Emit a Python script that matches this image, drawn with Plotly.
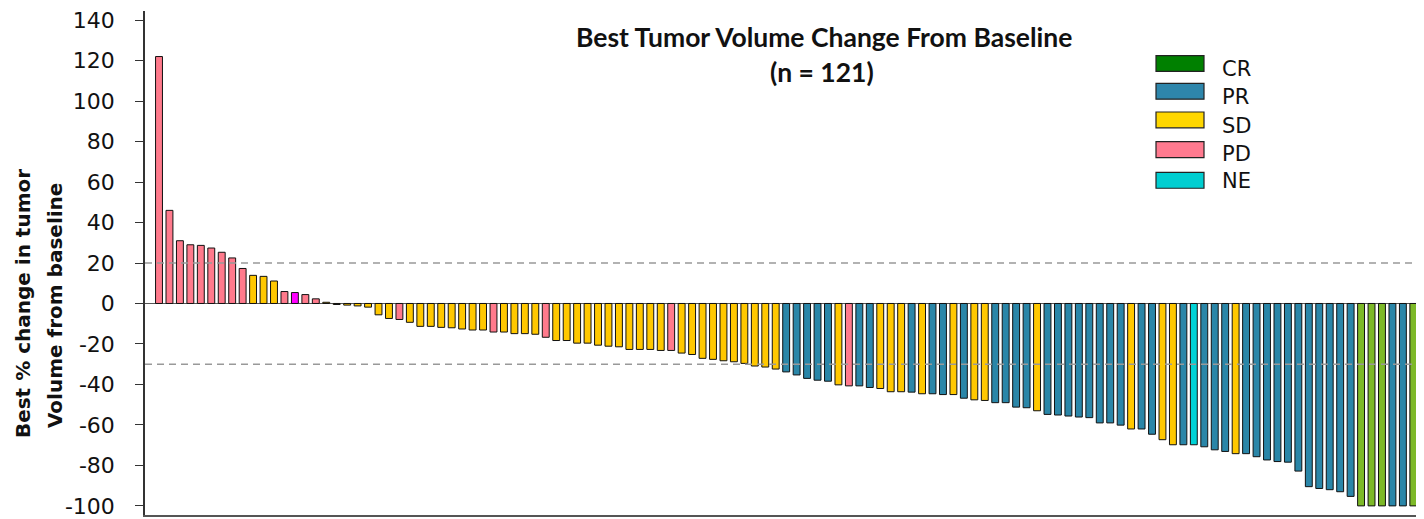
import plotly.graph_objects as go

# ---------------- data ----------------
patients = list(range(1, 122))
best_change = [
    122, 46, 31, 29, 28.7, 27.4, 25.3, 22.5, 17.3, 13.9,
    13.4, 11.1, 5.9, 5.4, 4.4, 2.3, 0.6, -0.5, -0.8, -1.2,
    -1.8, -5.6, -7.4, -7.9, -9.3, -11.3, -11.3, -11.8, -12.0, -12.6,
    -13.1, -13.1, -14.1, -14.1, -14.9, -14.9, -15.2, -16.7, -18.3, -18.3,
    -19.6, -19.6, -20.6, -21.1, -21.4, -22.7, -22.7, -22.7, -23.2, -23.2,
    -24.5, -25.2, -27.1, -27.6, -28.3, -28.8, -29.6, -30.9, -31.4, -32.4,
    -33.8, -35.3, -37.0, -37.9, -38.4, -40.2, -40.7, -40.7, -41.5, -42.0,
    -43.6, -43.6, -43.8, -44.6, -44.6, -45.0, -45.0, -46.8, -47.6, -47.9,
    -49.0, -49.0, -51.2, -51.5, -53.0, -54.8, -55.1, -55.6, -56.1, -56.4,
    -59.0, -59.0, -60.1, -62.0, -62.0, -64.6, -67.3, -69.8, -69.8, -69.8,
    -70.8, -72.3, -73.1, -74.2, -74.2, -75.7, -77.3, -78.1, -78.4, -82.8,
    -90.5, -91.4, -92.0, -93.0, -95.3, -100, -100, -100, -100, -100,
    -100,
]
response = (
    ["PD"] * 9 + ["SD"] * 3 + ["PD", "PD*", "PD", "PD"] + ["SD"] * 7 + ["PD"]
    + ["SD"] * 8 + ["PD"] + ["SD"] * 4 + ["PD"] + ["SD"] * 11 + ["PD"]
    + ["SD"] * 10 + ["PR"] * 5 + ["SD", "PD", "PR", "PR"] + ["SD"] * 3
    + ["PR", "SD", "PR", "PR", "SD", "PR", "SD", "SD"] + ["PR"] * 4 + ["SD"]
    + ["PR"] * 8 + ["SD", "PR", "PR", "SD", "SD", "PR", "NE"] + ["PR"] * 3
    + ["SD"] + ["PR"] * 11 + ["CR"] * 3 + ["PR", "PR", "CR"]
)
bar_colors_by_response = {
    "CR": "#7DB928", "PR": "#2A86A8", "SD": "#FFC800",
    "PD": "#FF7A8C", "PD*": "#FF00FF", "NE": "#00D2D6",
}
legend_labels = ["CR", "PR", "SD", "PD", "NE"]
legend_colors = ["#008000", "#2E86AB", "#FFD700", "#FF7A8F", "#00CED1"]
threshold_lines = [20, -30]
y_ticks = list(range(-100, 141, 20))
y_tick_text = [str(v) for v in y_ticks]

# ---------------- layout helpers ----------------
# the page body has an 8px margin: work in screen pixels, convert to figure pixels
OFF = 8
W, H = 1424 - OFF, 519 - OFF
PLOT_X0, PLOT_X1, PLOT_Y0, PLOT_Y1 = 145, 1424, 10, 519   # screen px
L, R, T, B = PLOT_X0 - OFF, (1424 - OFF) - (PLOT_X1 - OFF), PLOT_Y0 - OFF, H - (PLOT_Y1 - OFF)
TICK_FONT = "'DejaVu Sans', Verdana, sans-serif"
TITLE_FONT = "Lato, 'Liberation Sans', sans-serif"


def px_x(sx):
    return (sx - PLOT_X0) / (PLOT_X1 - PLOT_X0)


def px_y(sy):
    return (PLOT_Y1 - sy) / (PLOT_Y1 - PLOT_Y0)


fig = go.Figure()
fig.add_trace(go.Bar(
    x=patients, y=best_change,
    marker=dict(color=[bar_colors_by_response[r] for r in response],
                line=dict(color="#111111", width=1)),
    width=0.66, showlegend=False,
))

shapes = []
for v in threshold_lines:
    shapes.append(dict(type="line", xref="paper", yref="y", x0=0, x1=1, y0=v, y1=v,
                       line=dict(color="#999999", width=1.5, dash="7px,5px"), layer="above"))

annotations = []
legend_text_y = [69, 97, 126, 154, 182]
legend_swatch_y = [63, 91, 120, 150, 181]
for i, (lab, col) in enumerate(zip(legend_labels, legend_colors)):
    cy = legend_swatch_y[i]
    shapes.append(dict(type="rect", xref="paper", yref="paper",
                       x0=px_x(1156), x1=px_x(1204), y0=px_y(cy - 8), y1=px_y(cy + 8),
                       fillcolor=col, line=dict(color="#222222", width=1.2)))
    annotations.append(dict(xref="paper", yref="paper", x=px_x(1220), y=px_y(legend_text_y[i]),
                            text=lab, showarrow=False, xanchor="left", yanchor="middle",
                            font=dict(family=TICK_FONT, size=21, color="#111111")))

annotations += [
    dict(xref="paper", yref="paper", x=px_x(824), y=px_y(36),
         text="<b>Best Tumor Volume Change From Baseline</b>", showarrow=False,
         xanchor="center", yanchor="middle", font=dict(family=TITLE_FONT, size=26.5, color="#111111")),
    dict(xref="paper", yref="paper", x=px_x(822), y=px_y(72),
         text="<b>(n = 121)</b>", showarrow=False,
         xanchor="center", yanchor="middle", font=dict(family=TITLE_FONT, size=26.5, color="#111111")),
    dict(xref="paper", yref="paper", x=px_x(23), y=px_y(306),
         text="<b>Best % change in tumor</b>", showarrow=False, textangle=-90,
         xanchor="center", yanchor="middle", font=dict(family=TICK_FONT, size=20, color="#111111")),
    dict(xref="paper", yref="paper", x=px_x(55), y=px_y(307),
         text="<b>Volume from baseline</b>", showarrow=False, textangle=-90,
         xanchor="center", yanchor="middle", font=dict(family=TICK_FONT, size=20, color="#111111")),
]

fig.update_layout(
    width=W, height=H,
    margin=dict(l=L, r=R, t=T, b=B, pad=0),
    paper_bgcolor="white", plot_bgcolor="white",
    shapes=shapes, annotations=annotations,
    font=dict(family=TICK_FONT, color="#111111"),
)
fig.update_xaxes(range=[-0.34, 122.02], showticklabels=False, ticks="",
                 showgrid=False, zeroline=False,
                 showline=True, linecolor="#555555", linewidth=1.5, mirror=False)
fig.update_yaxes(range=[-104.5, 144.5], tickvals=y_ticks, ticktext=y_tick_text,
                 ticks="outside", ticklen=8, tickwidth=1.2, tickcolor="#333333",
                 showline=True, linecolor="#333333", linewidth=1.5,
                 showgrid=False, zeroline=True, zerolinecolor="#555555", zerolinewidth=1.2,
                 tickfont=dict(family=TICK_FONT, size=22, color="#111111"),
                 ticklabelstandoff=16, ticklabeloverflow="allow")

fig.write_html("out.html")
